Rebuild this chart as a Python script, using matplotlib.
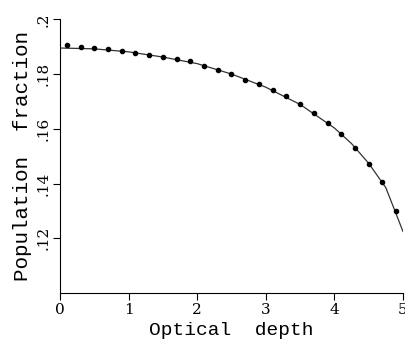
import numpy as np
import matplotlib
matplotlib.use("Agg")
import matplotlib.pyplot as plt

# measured points
depth = [0.1, 0.3, 0.5, 0.7, 0.9, 1.1, 1.3, 1.5, 1.7, 1.9, 2.1, 2.3, 2.5,
         2.7, 2.9, 3.1, 3.3, 3.5, 3.7, 3.9, 4.1, 4.3, 4.5, 4.7, 4.9]
frac = [0.1905, 0.1899, 0.1895, 0.1891, 0.1885, 0.1876, 0.1868, 0.1863,
        0.1855, 0.1846, 0.1831, 0.1816, 0.1799, 0.1780, 0.1764, 0.1742,
        0.1719, 0.1689, 0.1658, 0.1622, 0.1581, 0.1529, 0.1473, 0.1404,
        0.1299]

# model curve
curve_x = [0.0, 0.5, 1.0, 1.5, 2.0, 2.5, 3.0, 3.5, 4.0, 4.25, 4.5, 4.75, 5.0]
curve_y = [0.1895, 0.1892, 0.1881, 0.1862, 0.1838, 0.1800, 0.1752, 0.1689,
           0.1603, 0.1546, 0.1474, 0.1385, 0.1225]

xticks = [0, 1, 2, 3, 4, 5]
yticks = [0.12, 0.14, 0.16, 0.18, 0.20]
ylabels = [".12", ".14", ".16", ".18", ".2"]

fig = plt.figure(figsize=(4.05, 3.44), dpi=100)
ax = fig.add_axes([0.148, 0.148, 0.847, 0.796])

ax.plot(curve_x, curve_y, color="#333333", lw=0.9)
ax.plot(depth, frac, "o", color="black", ms=3)

ax.set_xlim(0, 5)
ax.set_ylim(0.10, 0.20)
ax.set_xticks(xticks)
ax.set_xticklabels([str(t) for t in xticks], family="DejaVu Serif", fontsize=11)
ax.set_yticks(yticks)
ax.set_yticklabels(ylabels, family="DejaVu Serif", fontsize=11,
                   rotation=90, va="center")
ax.tick_params(direction="out", length=5, width=0.8, pad=2)

ax.spines["top"].set_visible(False)
ax.spines["right"].set_visible(False)

ax.set_xlabel("Optical  depth", family="Liberation Mono", fontsize=14, labelpad=4)
ax.set_ylabel("Population  fraction", family="Liberation Mono", fontsize=15, labelpad=3)

fig.savefig("out.png", dpi=100)
